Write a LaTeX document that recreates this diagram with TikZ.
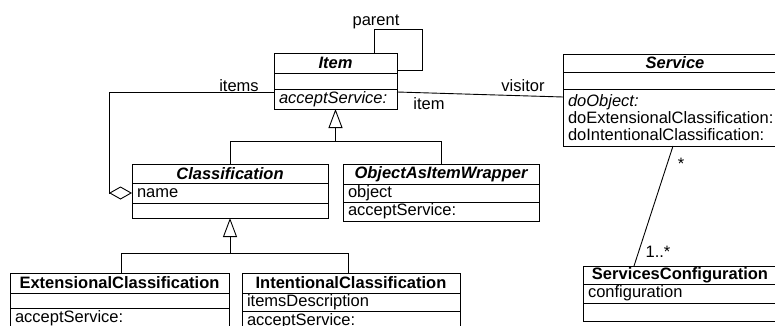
\documentclass[tikz,border=0pt]{standalone}
\usepackage{fontspec}
\setmainfont{Liberation Sans}
\usetikzlibrary{positioning,arrows.meta}

\begin{document}
\begin{tikzpicture}[x=1pt,y=-1pt,line width=0.9pt,
    every node/.style={outer sep=0pt,inner ysep=0pt},
    head/.style={draw,inner xsep=0pt,align=center,font=\fontsize{16.5}{17}\selectfont\bfseries},
    abstract/.style={head,font=\fontsize{16.5}{17}\selectfont\bfseries\itshape},
    cell/.style={draw,inner xsep=5pt,align=left,font=\fontsize{16.5}{17}\selectfont},
    role/.style={font=\fontsize{16.5}{17}\selectfont},
    gen/.style={-{Triangle[open,length=19pt,width=14pt]}},
    aggr/.style={-{Diamond[open,length=23pt,width=13pt]}}]

  \useasboundingbox (0,0) rectangle (775,326);

  \node[abstract,anchor=north west,text width=123pt,minimum height=20pt] (item) at (274,53) {Item};
  \node[cell,below=0pt of item,text width=113pt,minimum height=16pt] (item-a) {};
  \node[cell,below=0pt of item-a,text width=113pt,minimum height=20pt] (item-o) {\itshape acceptService:};

  \node[abstract,anchor=north west,text width=224pt,minimum height=18pt] (service) at (563,54) {Service};
  \node[cell,below=0pt of service,text width=214pt,minimum height=17pt] (service-a) {};
  \node[cell,below=0pt of service-a,text width=214pt,minimum height=57pt] (service-o)
    {\textit{doObject:}\\doExtensionalClassification:\\doIntentionalClassification:};

  \node[abstract,anchor=north west,text width=196pt,minimum height=19pt] (class) at (132,164) {Classification};
  \node[cell,below=0pt of class,text width=186pt,minimum height=20pt] (class-a) {name};
  \node[cell,below=0pt of class-a,text width=186pt,minimum height=15pt] (class-o) {};

  \node[abstract,anchor=north west,text width=196pt,minimum height=20pt] (wrapper) at (343,164) {ObjectAsItemWrapper};
  \node[cell,below=0pt of wrapper,text width=186pt,minimum height=18pt] (wrapper-a) {object};
  \node[cell,below=0pt of wrapper-a,text width=186pt,minimum height=19pt] (wrapper-o) {acceptService:};

  \node[head,anchor=north west,text width=219pt,minimum height=20pt] (ext) at (10,273) {ExtensionalClassification};
  \node[cell,below=0pt of ext,text width=209pt,minimum height=15pt] (ext-a) {};
  \node[cell,below=0pt of ext-a,text width=209pt,minimum height=20pt] (ext-o) {acceptService:};

  \node[head,anchor=north west,text width=218pt,minimum height=20pt] (int) at (242,273) {IntentionalClassification};
  \node[cell,below=0pt of int,text width=208pt,minimum height=18pt] (int-a) {itemsDescription};
  \node[cell,below=0pt of int-a,text width=208pt,minimum height=20pt] (int-o) {acceptService:};

  \node[head,anchor=north west,text width=194pt,minimum height=18pt] (config) at (583,266) {ServicesConfiguration};
  \node[cell,below=0pt of config,text width=184pt,minimum height=19pt] (config-a) {configuration};
  \node[cell,below=0pt of config-a,text width=184pt,minimum height=18pt] (config-o) {};

  \draw ([xshift=-23pt]item.north east) -- ++(0,-24) -- ++(48,0) -- ++(0,41) -- ([yshift=3pt]item.south east);
  \node[role] (parent-lbl) at (376,22) {parent};

  \draw[aggr] ([yshift=-3pt]item-o.north west) -| ([xshift=-23pt]class-a.west) -- (class-a.west);
  \node[role] (items-lbl) at (239,86) {items};

  \draw ([yshift=-3pt]item-o.north east) -- ([yshift=-8pt]service-o.north west);
  \node[role] (visitor-lbl) at (523,86) {visitor};
  \node[role] (item-lbl) at (429,104) {item};

  \draw[gen] (class.north) |- ([yshift=-32pt]item-o.south) -- (item-o.south);
  \draw (wrapper.north) |- ([yshift=-32pt]item-o.south);

  \draw[gen] ([xshift=2pt]ext.north) |- ([yshift=-35pt]class-o.south) -- (class-o.south);
  \draw ([xshift=-3pt]int.north) |- ([yshift=-35pt]class-o.south);

  \draw ([xshift=-2pt]service-o.south) -- ([xshift=-46pt]config.north);
  \node[role] (many-lbl) at (681,164) {*};
  \node[role] (oneplus-lbl) at (658,252) {1..*};

\end{tikzpicture}
\end{document}
